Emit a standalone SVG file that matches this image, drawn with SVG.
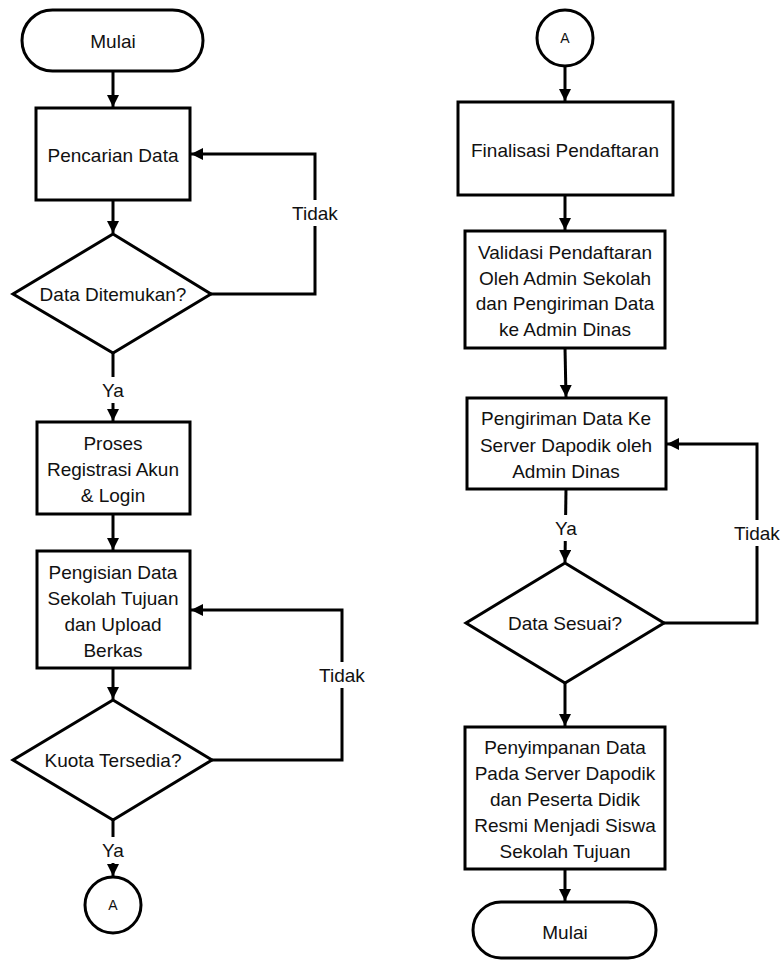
<svg xmlns="http://www.w3.org/2000/svg" width="781" height="960" viewBox="0 0 781 960">
<style>
.s{fill:#fff;stroke:#000;stroke-width:3;stroke-linejoin:miter}
.c{fill:none;stroke:#000;stroke-width:3}
text{font-family:"Liberation Sans",Arial,sans-serif;font-size:19px;fill:#111;text-anchor:middle;dominant-baseline:central}
.sm{font-size:14px}
.lb{fill:#fff;stroke:none}
</style>
<defs>
<marker id="ah" markerUnits="userSpaceOnUse" markerWidth="14" markerHeight="14" refX="12" refY="6" orient="auto">
<path d="M0,0 L12,6 L0,12 z" fill="#000"/>
</marker>
</defs>
<rect width="781" height="960" fill="#fff"/>
<g id="connectors">
<path class="c" d="M113,71 V107" marker-end="url(#ah)"/>
<path class="c" d="M113,200 V233" marker-end="url(#ah)"/>
<path class="c" d="M211,294 H315 V154 H191" marker-end="url(#ah)"/>
<path class="c" d="M113,353 V421" marker-end="url(#ah)"/>
<path class="c" d="M113,514 V550" marker-end="url(#ah)"/>
<path class="c" d="M113,668 V699" marker-end="url(#ah)"/>
<path class="c" d="M212,760 H342 V610 H191" marker-end="url(#ah)"/>
<path class="c" d="M113,820 V876" marker-end="url(#ah)"/>
<path class="c" d="M565,66 V101" marker-end="url(#ah)"/>
<path class="c" d="M565,195 V230" marker-end="url(#ah)"/>
<path class="c" d="M565,348 L566,397" marker-end="url(#ah)"/>
<path class="c" d="M566,489 L565,562" marker-end="url(#ah)"/>
<path class="c" d="M664,623 H757 V444 H667" marker-end="url(#ah)"/>
<path class="c" d="M565,683 V726" marker-end="url(#ah)"/>
<path class="c" d="M565,869 V901" marker-end="url(#ah)"/>
<rect class="lb" x="290" y="200" width="50" height="26"/>
<text x="315" y="213">Tidak</text>
<rect class="lb" x="100" y="377" width="26" height="26"/>
<text x="113" y="390">Ya</text>
<rect class="lb" x="317" y="662" width="50" height="26"/>
<text x="342" y="675">Tidak</text>
<rect class="lb" x="100" y="837" width="26" height="26"/>
<text x="113" y="850">Ya</text>
<rect class="lb" x="553" y="515" width="26" height="26"/>
<text x="566" y="528">Ya</text>
<rect class="lb" x="732" y="520" width="49" height="26"/>
<text x="757" y="533">Tidak</text>
</g>
<g id="start">
<rect class="s" x="22" y="10" width="181" height="61" rx="30.5"/>
<text x="113" y="41">Mulai</text>
</g>
<g id="pencarian">
<rect class="s" x="36" y="108" width="154" height="92"/>
<text x="113" y="155">Pencarian Data</text>
</g>
<g id="ditemukan">
<polygon class="s" points="113,234 211,294 113,353 13,294"/>
<text x="113" y="294">Data Ditemukan?</text>
</g>
<g id="registrasi">
<rect class="s" x="37" y="422" width="153" height="92"/>
<text x="113" y="443">Proses</text>
<text x="113" y="469">Registrasi Akun</text>
<text x="113" y="495">&amp; Login</text>
</g>
<g id="pengisian">
<rect class="s" x="37" y="551" width="153" height="117"/>
<text x="113" y="572">Pengisian Data</text>
<text x="113" y="598">Sekolah Tujuan</text>
<text x="113" y="624">dan Upload</text>
<text x="113" y="650">Berkas</text>
</g>
<g id="kuota">
<polygon class="s" points="113,700 212,760 113,820 13,760"/>
<text x="113" y="760">Kuota Tersedia?</text>
</g>
<g id="a1">
<circle class="s" cx="113" cy="905" r="28"/>
<text class="sm" x="113" y="905">A</text>
</g>
<g id="a2">
<circle class="s" cx="565" cy="38" r="28"/>
<text class="sm" x="565" y="38">A</text>
</g>
<g id="finalisasi">
<rect class="s" x="458" y="102" width="215" height="93"/>
<text x="565" y="150">Finalisasi Pendaftaran</text>
</g>
<g id="validasi">
<rect class="s" x="465" y="231" width="200" height="117"/>
<text x="565" y="252">Validasi Pendaftaran</text>
<text x="565" y="278">Oleh Admin Sekolah</text>
<text x="565" y="303">dan Pengiriman Data</text>
<text x="565" y="329">ke Admin Dinas</text>
</g>
<g id="pengiriman">
<rect class="s" x="467" y="398" width="199" height="91"/>
<text x="566" y="418">Pengiriman Data Ke</text>
<text x="566" y="445">Server Dapodik oleh</text>
<text x="566" y="471">Admin Dinas</text>
</g>
<g id="sesuai">
<polygon class="s" points="565,563 664,623 565,683 466,623"/>
<text x="565" y="623">Data Sesuai?</text>
</g>
<g id="penyimpanan">
<rect class="s" x="465" y="727" width="200" height="142"/>
<text x="565" y="747">Penyimpanan Data</text>
<text x="565" y="773">Pada Server Dapodik</text>
<text x="565" y="799">dan Peserta Didik</text>
<text x="565" y="825">Resmi Menjadi Siswa</text>
<text x="565" y="851">Sekolah Tujuan</text>
</g>
<g id="end">
<rect class="s" x="473" y="902" width="183" height="56" rx="28"/>
<text x="565" y="932">Mulai</text>
</g>
</svg>
